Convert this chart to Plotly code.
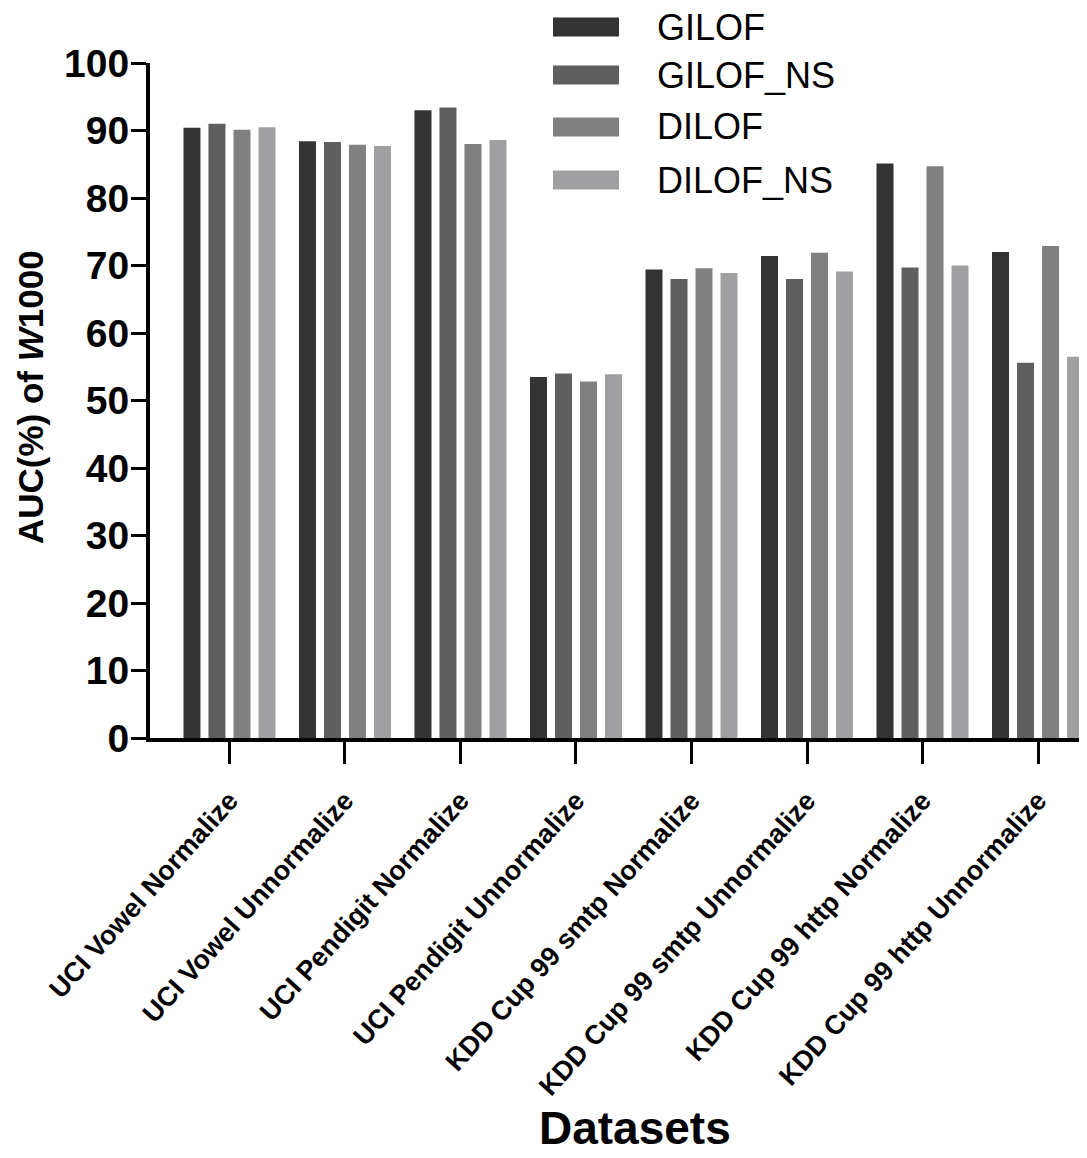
import plotly.graph_objects as go

categories = [
    "UCI Vowel Normalize",
    "UCI Vowel Unnormalize",
    "UCI Pendigit Normalize",
    "UCI Pendigit Unnormalize",
    "KDD Cup 99 smtp Normalize",
    "KDD Cup 99 smtp Unnormalize",
    "KDD Cup 99 http Normalize",
    "KDD Cup 99 http Unnormalize",
]
series_names = ["GILOF", "GILOF_NS", "DILOF", "DILOF_NS"]
gilof = [90.4, 88.4, 93.0, 53.5, 69.4, 71.4, 85.1, 72.0]
gilof_ns = [91.0, 88.3, 93.4, 54.0, 68.0, 68.0, 69.7, 55.6]
dilof = [90.1, 87.9, 88.0, 52.8, 69.6, 71.9, 84.7, 72.9]
dilof_ns = [90.5, 87.7, 88.6, 53.9, 68.9, 69.1, 70.0, 56.5]
series_values = [gilof, gilof_ns, dilof, dilof_ns]
colors = ["#333333", "#5f5f5f", "#808080", "#a0a0a3"]
y_ticks = list(range(0, 101, 10))

FONT = "Liberation Sans, Arial, sans-serif"
OFF = 8  # page body margin
W, H = 1087 - OFF, 1158 - OFF
ML, MR, MT, MB = 150 - OFF, 0, 63 - OFF, 1158 - 738
PW, PH = W - ML - MR, H - MT - MB


def px_x(x):
    return (x - OFF - ML) / PW


def px_y(y):
    return 1 - (y - OFF - MT) / PH


fig = go.Figure()
for name, vals, col in zip(series_names, series_values, colors):
    fig.add_trace(go.Bar(
        x=list(range(len(categories))), y=vals, name=name,
        marker=dict(color=col, line=dict(width=0)),
        showlegend=False,
    ))

# manual legend (wide swatches like the reference)
leg_x0, leg_x1, leg_tx = 553, 619, 655
leg_y = [27, 75, 127, 180]
shapes = []
annotations = []
for name, col, yc in zip(series_names, colors, leg_y):
    shapes.append(dict(type="rect", xref="paper", yref="paper",
                       x0=px_x(leg_x0), x1=px_x(leg_x1),
                       y0=px_y(yc + 9.5), y1=px_y(yc - 9.5),
                       fillcolor=col, line=dict(width=0)))
    annotations.append(dict(text=name, xref="paper", yref="paper",
                            x=px_x(leg_tx), y=px_y(yc),
                            xanchor="left", yanchor="middle", showarrow=False,
                            font=dict(family=FONT, size=36, color="black")))

annotations.append(dict(text="<b>Datasets</b>", xref="paper", yref="paper",
                        x=px_x(635), y=px_y(1128),
                        xanchor="center", yanchor="middle", showarrow=False,
                        font=dict(family=FONT, size=46, color="black")))

annotations.append(dict(text="<b>AUC(%) of <i>W</i>1000</b>", xref="paper", yref="paper",
                        x=px_x(30), y=px_y(397), textangle=-90,
                        xanchor="center", yanchor="middle", showarrow=False,
                        font=dict(family=FONT, size=35, color="black")))

fig.update_layout(
    width=W, height=H,
    margin=dict(l=ML, r=MR, t=MT, b=MB, autoexpand=False),
    plot_bgcolor="white", paper_bgcolor="white",
    barmode="group", bargap=0.134, bargroupgap=0.32,
    shapes=shapes, annotations=annotations,
    font=dict(family=FONT, color="black"),
)
fig.update_xaxes(
    range=[-0.688, 7.424],
    tickmode="array", tickvals=list(range(len(categories))), ticktext=categories,
    tickangle=-48, tickfont=dict(family=FONT, size=27, color="black", weight="bold"),
    ticks="outside", ticklen=22, tickwidth=3, tickcolor="black",
    ticklabelstandoff=10,
    showline=True, linewidth=4, linecolor="black", showgrid=False, zeroline=False,
)
fig.update_yaxes(
    range=[0, 100], tickmode="array", tickvals=y_ticks,
    tickfont=dict(family=FONT, size=39, color="black", weight="bold"),
    ticks="outside", ticklen=15, tickwidth=3, tickcolor="black",
    ticklabelstandoff=-6,
    showline=True, linewidth=4, linecolor="black", showgrid=False, zeroline=False,
)

fig.write_html("out.html")
